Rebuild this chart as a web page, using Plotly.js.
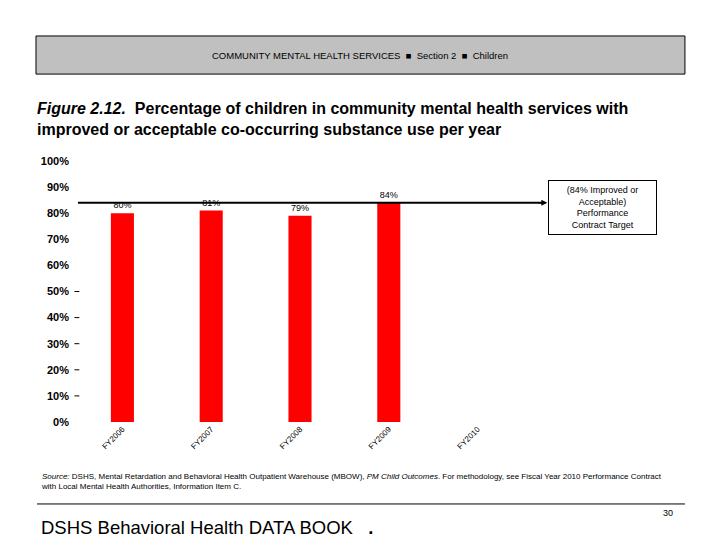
<!DOCTYPE html>
<html><head><meta charset="utf-8">
<script src="https://cdn.plot.ly/plotly-3.0.1.min.js"></script>
<style>body{margin:0;background:#fff}#c{width:720px;height:540px}</style>
</head><body><div id="c"></div>
<script>
const categories = ['FY2006','FY2007','FY2008','FY2009','FY2010'];
const values = [0.80, 0.81, 0.79, 0.84, null];
const valueLabels = ['80%','81%','79%','84%',''];
const target = 0.84;
const yTicks = [0,0.1,0.2,0.3,0.4,0.5,0.6,0.7,0.8,0.9,1.0];
const yTickLabels = ['0%','10%','20%','30%','40%','50%','60%','70%','80%','90%','100%'];
const dashTicks = [0.1,0.2,0.3,0.4,0.5];
const FONT = 'Liberation Sans, Arial, sans-serif';

const shapes = [
  {type:'rect', xref:'paper', yref:'paper', x0:-0.0946, x1:1.367, y0:1.333, y1:1.479,
   line:{color:'#000',width:1}, fillcolor:'#c0c0c0', layer:'below'},
  {type:'line', xref:'paper', yref:'y', x0:0, x1:1.05, y0:target, y1:target, line:{color:'#000',width:2}},
  {type:'line', xref:'paper', yref:'paper', x0:-0.0923, x1:1.367, y0:-0.314, y1:-0.314, line:{color:'#000',width:1}}
];
dashTicks.forEach(v => shapes.push({type:'line', xref:'paper', yref:'y', x0:-0.008, x1:0.003, y0:v, y1:v, line:{color:'#000',width:1}}));

const annotations = [
  {xref:'paper', yref:'paper', x:0.635, y:1.406, xanchor:'center', yanchor:'middle',
   text:'COMMUNITY MENTAL HEALTH SERVICES  ■  Section 2  ■  Children',
   showarrow:false, font:{family:FONT,size:9.5,color:'#000'}},
  {xref:'paper', yref:'paper', x:-0.096, y:1.24, xanchor:'left', yanchor:'top', align:'left',
   text:'<b><i>Figure 2.12.</i>  Percentage of children in community mental health services with<br>improved or acceptable co-occurring substance use per year</b>',
   showarrow:false, font:{family:FONT,size:16,color:'#000'}},
  {xref:'paper', yref:'y', x:1.1824, y:0.822, xanchor:'center', yanchor:'middle',
   text:'(84% Improved or<br>Acceptable)<br>Performance<br>Contract Target',
   showarrow:false, font:{family:FONT,size:9,color:'#000'}, bordercolor:'#000', borderwidth:1, borderpad:3,
   width:101, height:47, bgcolor:'#fff'},
  {xref:'paper', yref:'y', x:1.057, y:target, ax:-10, ay:0, text:'', showarrow:true, arrowhead:2, arrowsize:0.8, arrowwidth:1.5, arrowcolor:'#000'},
  {xref:'paper', yref:'paper', x:-0.088, y:-0.185, xanchor:'left', yanchor:'top', align:'left',
   text:'<i>Source:</i> DSHS, Mental Retardation and Behavioral Health Outpatient Warehouse (MBOW), <i>PM Child Outcomes</i>. For methodology, see Fiscal Year 2010 Performance Contract<br>with Local Mental Health Authorities, Information Item C.',
   showarrow:false, font:{family:FONT,size:8,color:'#000'}},
  {xref:'paper', yref:'paper', x:1.329, y:-0.349, xanchor:'center', yanchor:'middle', text:'30',
   showarrow:false, font:{family:FONT,size:9,color:'#000'}},
  {xref:'paper', yref:'paper', x:-0.088, y:-0.406, xanchor:'left', yanchor:'middle', text:'DSHS Behavioral Health DATA BOOK   <b>.</b>',
   showarrow:false, font:{family:FONT,size:18.5,color:'#000'}}
];

const trace = {
  type:'bar', x:categories, y:values, text:valueLabels, textposition:'outside', cliponaxis:false,
  textfont:{family:FONT,size:9,color:'#000'},
  marker:{color:'#ff0000'}, width:0.26, hoverinfo:'none'
};

const layout = {
  width:720, height:540,
  margin:{l:78, r:198, t:161, b:118, pad:0},
  paper_bgcolor:'#fff', plot_bgcolor:'#fff',
  showlegend:false,
  xaxis:{type:'category', range:[-0.5,4.5], tickangle:-45, showgrid:false, zeroline:false, showline:false,
    ticks:'', tickfont:{family:FONT,size:8,color:'#000'}, automargin:false},
  yaxis:{range:[0,1], tickvals:yTicks, ticktext:yTickLabels, showgrid:false, zeroline:false, showline:false,
    ticks:'', ticklabelstandoff:8, tickfont:{family:FONT,size:11,color:'#000',weight:'bold'}, automargin:false},
  shapes:shapes, annotations:annotations
};

Plotly.newPlot('c',[trace],layout,{staticPlot:true});
</script></body></html>
